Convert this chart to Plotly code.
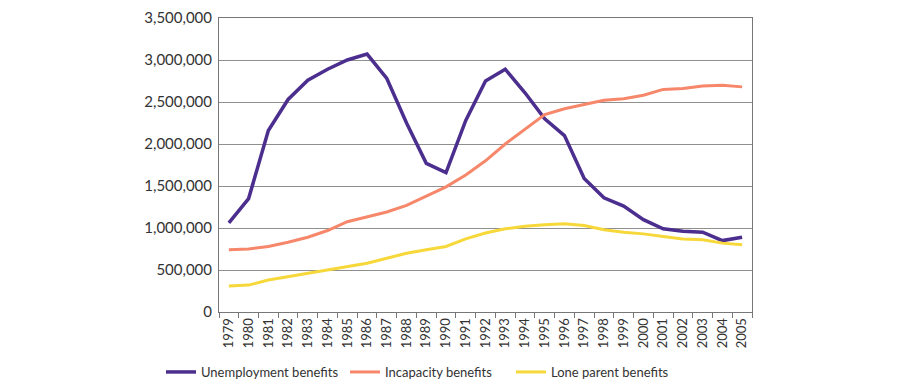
import plotly.graph_objects as go

years = [str(y) for y in range(1979, 2006)]
unemployment = [1060000, 1350000, 2160000, 2530000, 2760000, 2890000, 3000000, 3070000,
                2780000, 2250000, 1770000, 1660000, 2280000, 2750000, 2890000, 2610000,
                2300000, 2100000, 1590000, 1360000, 1260000, 1100000, 990000, 960000,
                950000, 850000, 890000]
incapacity = [740000, 750000, 780000, 830000, 890000, 970000, 1075000, 1130000,
              1190000, 1270000, 1380000, 1490000, 1630000, 1800000, 2000000, 2170000,
              2350000, 2420000, 2470000, 2520000, 2540000, 2580000, 2650000, 2660000,
              2690000, 2700000, 2680000]
lone_parent = [310000, 320000, 380000, 420000, 460000, 500000, 540000, 580000,
               640000, 700000, 740000, 780000, 870000, 940000, 990000, 1020000,
               1040000, 1050000, 1030000, 980000, 950000, 930000, 900000, 870000,
               860000, 820000, 800000]
y_ticks = [0, 500000, 1000000, 1500000, 2000000, 2500000, 3000000, 3500000]

fig = go.Figure()
fig.add_trace(go.Scatter(x=years, y=unemployment, mode="lines", name="Unemployment benefits",
                         line=dict(color="#4b2e8e", width=3.5), legend="legend"))
fig.add_trace(go.Scatter(x=years, y=incapacity, mode="lines", name="Incapacity benefits",
                         line=dict(color="#f6876a", width=3), legend="legend2"))
fig.add_trace(go.Scatter(x=years, y=lone_parent, mode="lines", name="Lone parent benefits",
                         line=dict(color="#f7d83a", width=3), legend="legend3"))

leg_common = dict(orientation="h", xref="container", yref="container", xanchor="left",
                  yanchor="middle", y=(392 - 364) / 392, itemwidth=30,
                  font=dict(family="Lato", size=13, color="#333333"),
                  bgcolor="rgba(0,0,0,0)", borderwidth=0)

fig.update_layout(
    width=907, height=392,
    margin=dict(l=211, r=163, t=10, b=88, autoexpand=False),
    paper_bgcolor="white", plot_bgcolor="white",
    font=dict(family="Lato", color="#333333"),
    legend=dict(x=153 / 907, **leg_common),
    legend2=dict(x=337 / 907, **leg_common),
    legend3=dict(x=503 / 907, **leg_common),
    showlegend=True,
)
fig.update_xaxes(type="category", tickson="boundaries", ticks="outside", ticklen=5,
                 tickcolor="#777777", tickangle=-90, tickfont=dict(size=13),
                 showgrid=False, showline=True, linecolor="#777777", linewidth=1,
                 mirror=True, range=[-0.5, 26.5], automargin=False)
fig.update_yaxes(range=[0, 3500000], tickvals=y_ticks, tickformat=",d",
                 tickfont=dict(size=15), showgrid=True, gridcolor="#8f8f8f", gridwidth=1,
                 showline=True, linecolor="#777777", linewidth=1, mirror=True,
                 ticks="", zeroline=False, automargin=False, ticklabelstandoff=3,
                 ticklabeloverflow="allow")

fig.write_html("out.html")
